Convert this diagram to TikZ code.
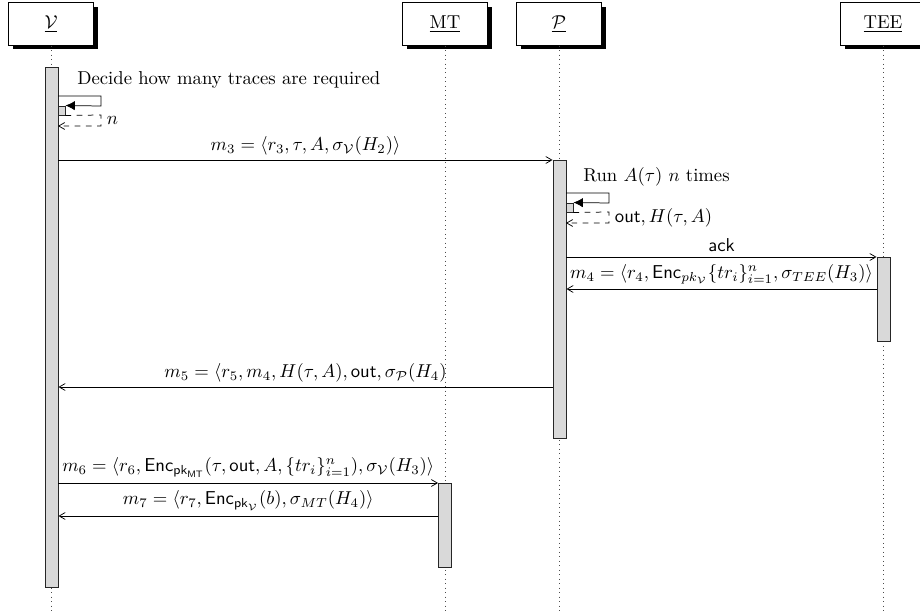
\documentclass[tikz,border=0pt]{standalone}
\usepackage{amsmath}
\usetikzlibrary{arrows, arrows.meta, shadows, fit}
\begin{document}
\begin{tikzpicture}[x=0.5357pt, y=-0.5357pt,
  inst/.style={rectangle, draw, minimum width=1.6cm, minimum height=0.8cm, fill=white, drop shadow={opacity=1,fill=black}},
  lifeline/.style={dotted, black!70},
  actbar/.style={draw=black!85, fill=gray!30, inner sep=0pt, line width=0.5pt},
  msg/.style={->, >=angle 60, black},
  selfcall/.style={-{Latex[length=5pt,width=5pt]}, black},
  selfret/.style={dashed, ->, >=angle 60, black},
  lbl/.style={above, inner sep=2.5pt},
]
\useasboundingbox (0,0) rectangle (920,613);

% instances
\node[inst] (V) at (51,24) {$\underline{\mathcal{V}}$};
\node[inst] (MT) at (445,24) {\underline{MT}};
\node[inst] (P) at (559,24) {$\underline{\mathcal{P}}$};
\node[inst] (TEE) at (883,24) {\underline{TEE}};

% lifelines
\coordinate (Vend) at (51,613);
\coordinate (MTend) at (445,613);
\coordinate (Pend) at (559,613);
\coordinate (TEEend) at (883,613);
\draw[lifeline] (V.south) -- (Vend);
\draw[lifeline] (MT.south) -- (MTend);
\draw[lifeline] (P.south) -- (Pend);
\draw[lifeline] (TEE.south) -- (TEEend);

% activation bars
\node[actbar, fit={(45,67)(58,587)}] (Vbar) {};
\node[actbar, fit={(553,160)(566,438)}] (Pbar) {};
\node[actbar, fit={(877,257)(890,341)}] (Tbar) {};
\node[actbar, fit={(438.5,483)(451.5,567)}] (Mbar) {};

% self call on V
\node[anchor=base west, inner sep=0pt] (Vop) at (77,85) {Decide how many traces are required};
\node[actbar, fit={(58,106)(65,115)}] (Vsub) {};
\coordinate (Vc0) at (58,96);
\coordinate (Vc1) at (101,96);
\coordinate (Vc2) at (101,106);
\draw[selfcall] (Vc0) -- (Vc1) -- (Vc2) -- (Vsub.north east);
\coordinate (Vr1) at (101,115);
\coordinate (Vr2) at (101,126);
\coordinate (Vr3) at (58,126);
\draw[selfret] (Vsub.south east) -- (Vr1) -- (Vr2) -- (Vr3);
\node[right, inner sep=3pt] (Vn) at (101,120.5) {$n$};

% m3
\coordinate (y3) at (0,160);
\draw[msg] (Vbar.east |- y3) -- (Pbar.west |- y3)
  node[midway, lbl] (l3) {$m_3 = \langle r_3, \tau, A, \sigma_{\mathcal{V}}(H_2)\rangle$};

% self call on P
\node[anchor=base west, inner sep=0pt] (Pop) at (583,181) {Run $A(\tau)$ $n$ times};
\node[actbar, fit={(566,203)(573,212)}] (Psub) {};
\coordinate (Pc0) at (566,193);
\coordinate (Pc1) at (609,193);
\coordinate (Pc2) at (609,203);
\draw[selfcall] (Pc0) -- (Pc1) -- (Pc2) -- (Psub.north east);
\coordinate (Pr1) at (609,212);
\coordinate (Pr2) at (609,223);
\coordinate (Pr3) at (566,223);
\draw[selfret] (Psub.south east) -- (Pr1) -- (Pr2) -- (Pr3);
\node[right, inner sep=3pt] (Pout) at (609,217.5) {$\mathsf{out}, H(\tau, A)$};

% ack
\coordinate (ya) at (0,257);
\draw[msg] (Pbar.east |- ya) -- (Tbar.west |- ya)
  node[midway, lbl] (la) {\textsf{ack}};

% m4
\coordinate (y4) at (0,289);
\draw[msg] (Tbar.west |- y4) -- (Pbar.east |- y4)
  node[midway, lbl] (l4) {$m_4 = \langle r_4, \mathsf{Enc}_{pk_{\mathcal{V}}}\{tr_i\}_{i=1}^{n}, \sigma_{TEE}(H_3)\rangle$};

% m5
\coordinate (y5) at (0,387);
\draw[msg] (Pbar.west |- y5) -- (Vbar.east |- y5)
  node[midway, lbl] (l5) {$m_5 = \langle r_5, m_4, H(\tau, A), \mathsf{out}, \sigma_{\mathcal{P}}(H_4)$};

% m6
\coordinate (y6) at (0,483);
\draw[msg] (Vbar.east |- y6) -- (Mbar.west |- y6)
  node[midway, lbl] (l6) {$m_6 = \langle r_6, \mathsf{Enc}_{\mathsf{pk}_{\mathsf{MT}}}(\tau, \mathsf{out}, A, \{tr_i\}_{i=1}^{n}), \sigma_{\mathcal{V}}(H_3)\rangle$};

% m7
\coordinate (y7) at (0,516);
\draw[msg] (Mbar.west |- y7) -- (Vbar.east |- y7)
  node[midway, lbl] (l7) {$m_7 = \langle r_7, \mathsf{Enc}_{\mathsf{pk}_{\mathcal{V}}}(b), \sigma_{MT}(H_4)\rangle$};

\end{tikzpicture}
\end{document}
